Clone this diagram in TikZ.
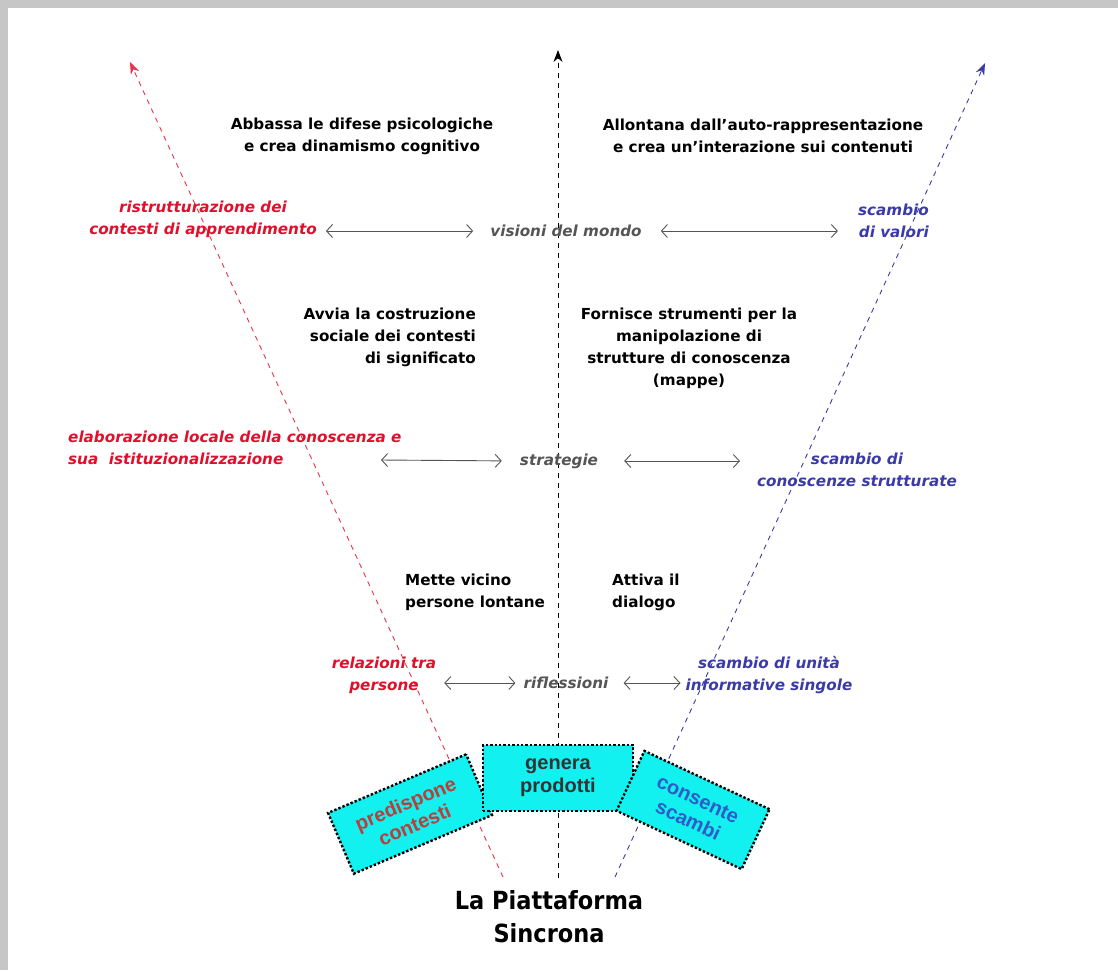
\documentclass[tikz,border=0pt]{standalone}
\usepackage{fontspec}
\setmainfont{DejaVu Sans}
\newfontfamily\condfont{DejaVu Sans Condensed}
\newfontfamily\boxfont{Liberation Sans}
\usetikzlibrary{arrows.meta}

\definecolor{labred}{HTML}{E0102C}
\definecolor{labblue}{HTML}{3A3AA8}
\definecolor{labgray}{HTML}{555555}
\definecolor{boxcyan}{HTML}{12F0F0}
\definecolor{boxred}{HTML}{B8403C}
\definecolor{boxblue}{HTML}{2E5CC8}

\tikzset{
  plain/.style={font=\bfseries\fontsize{15.2}{22}\selectfont, inner sep=0pt, align=center},
  redlab/.style={plain, font=\bfseries\itshape\fontsize{15.2}{22}\selectfont, text=labred},
  bluelab/.style={plain, font=\bfseries\itshape\fontsize{15.2}{22}\selectfont, text=labblue},
  graylab/.style={plain, font=\bfseries\itshape\fontsize{15.2}{22}\selectfont, text=labgray},
  biarrow/.style={{Straight Barb[length=6pt,width=13pt]}-{Straight Barb[length=6pt,width=13pt]}, draw=labgray, line width=0.9pt},
  axis/.style={dash pattern=on 5pt off 5pt, line width=0.9pt, -{Stealth[length=12pt,width=9pt]}},
  cyanbox/.style={draw=black, fill=boxcyan, line width=2.4pt, dotted, minimum width=150pt, minimum height=66pt,
    inner sep=0pt, align=center, font=\boxfont\bfseries\fontsize{20}{23}\selectfont},
}

\begin{document}
\begin{tikzpicture}[x=1pt,y=-1pt]
\useasboundingbox (0,0) rectangle (1118,970);
\fill[white] (0,0) rectangle (1118,970);
% cornice
\fill[gray!45] (0,0) rectangle (1118,8);
\fill[gray!45] (0,0) rectangle (8,970);

% assi
\coordinate (axC0) at (558,878);
\coordinate (axC1) at (558,50);
\coordinate (axL0) at (503,877);
\coordinate (axL1) at (130,62);
\coordinate (axR0) at (615,877);
\coordinate (axR1) at (985,63);
\draw[axis, draw=black] (axC0) -- (axC1);
\draw[axis, draw=labred!85] (axL0) -- (axL1);
\draw[axis, draw=labblue] (axR0) -- (axR1);

% livello alto
\node[plain] (abbassa) at (362,136) {Abbassa le difese psicologiche\\e crea dinamismo cognitivo};
\node[plain] (allontana) at (763,136) {Allontana dall’auto-rappresentazione\\e crea un’interazione sui contenuti};
\node[redlab] (ristr) at (203,219) {ristrutturazione dei\\contesti di apprendimento};
\node[graylab] (visioni) at (566,231) {visioni del mondo};
\node[bluelab, align=right, anchor=east] (valori) at (929,221) {scambio\\di valori};
\draw[biarrow, shorten <=9pt, shorten >=17pt] (visioni.west -| ristr.east) -- (visioni.west);
\draw[biarrow, shorten <=19pt, shorten >=20pt] (visioni.east) -- (visioni.east -| valori.west);

% livello medio
\node[plain, align=right, anchor=east] (avvia) at (476,337) {Avvia la costruzione\\sociale dei contesti\\di significato};
\node[plain] (fornisce) at (689,348) {Fornisce strumenti per la\\manipolazione di\\strutture di conoscenza\\(mappe)};
\node[redlab, align=left, anchor=west] (elab) at (68,448) {elaborazione locale della conoscenza e\\sua\ \ istituzionalizzazione};
\node[graylab] (strategie) at (559,461) {strategie};
\node[bluelab] (conosc) at (857,470) {scambio di\\conoscenze strutturate};
\coordinate (elabend) at (381,460);
\draw[biarrow, shorten >=18pt] (elabend) -- (strategie.west);
\draw[biarrow, shorten <=26pt, shorten >=17pt] (strategie.east) -- (strategie.east -| conosc.west);

% livello basso
\node[plain, align=left, anchor=west] (mette) at (405,592) {Mette vicino\\persone lontane};
\node[plain, align=left, anchor=west] (attiva) at (612,592) {Attiva il\\dialogo};
\node[redlab] (relazioni) at (384,675) {relazioni tra\\persone};
\node[graylab] (riflessioni) at (566,683) {riflessioni};
\node[bluelab] (unita) at (769,675) {scambio di unità\\informative singole};
\draw[biarrow, shorten <=8pt, shorten >=8pt] (riflessioni.west -| relazioni.east) -- (riflessioni.west);
\draw[biarrow, shorten <=15pt, shorten >=5pt] (riflessioni.east) -- (riflessioni.east -| unita.west);

% piattaforma
\node[cyanbox, rotate=23, text=boxred] (predispone) at (410,814) {predispone\\contesti};
\node[cyanbox, text=black!80] (genera) at (558,778) {genera\\prodotti};
\node[cyanbox, rotate=-25, minimum width=138pt, text=boxblue] (consente) at (693,810) {consente\\scambi};
\node[inner sep=0pt, align=center, font=\condfont\bfseries\fontsize{25}{33}\selectfont] (piattaforma) at (549,917) {La Piattaforma\\Sincrona};
\end{tikzpicture}
\end{document}
